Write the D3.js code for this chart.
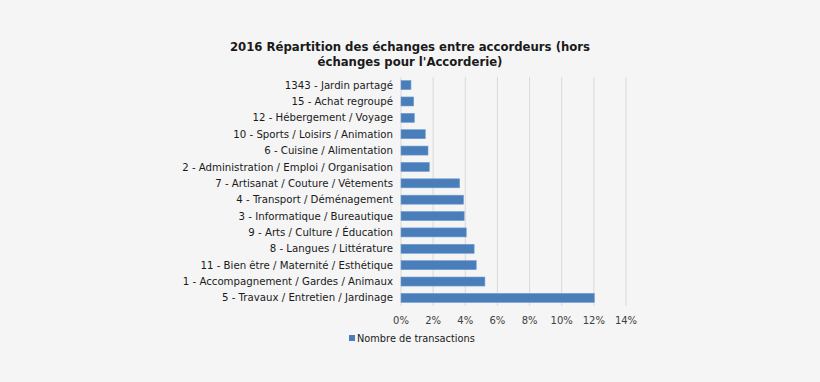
<!DOCTYPE html>
<html>
<head>
<meta charset="utf-8">
<script src="https://cdn.jsdelivr.net/npm/d3@7"></script>
<style>
  body { margin: 0; background: #f5f5f5; }
  svg { display: block; font-family: "DejaVu Sans", Verdana, sans-serif; }
</style>
</head>
<body>
<svg id="chart" width="820" height="382"></svg>
<script>
const categories = [
  "1343 - Jardin partagé",
  "15 - Achat regroupé",
  "12 - Hébergement / Voyage",
  "10 - Sports / Loisirs / Animation",
  "6 - Cuisine / Alimentation",
  "2 - Administration / Emploi / Organisation",
  "7 - Artisanat / Couture / Vêtements",
  "4 - Transport / Déménagement",
  "3 - Informatique / Bureautique",
  "9 - Arts / Culture / Éducation",
  "8 - Langues / Littérature",
  "11 - Bien être / Maternité / Esthétique",
  "1 - Accompagnement / Gardes / Animaux",
  "5 - Travaux / Entretien / Jardinage"
];
const transactions = [0.62, 0.79, 0.83, 1.51, 1.68, 1.76, 3.65, 3.89, 3.93, 4.06, 4.55, 4.68, 5.22, 12.03];
const xTicks = [0, 2, 4, 6, 8, 10, 12, 14];
const titleLines = ["2016 Répartition des échanges entre accordeurs (hors", "échanges pour l'Accorderie)"];
const legendLabel = "Nombre de transactions";

const svg = d3.select("#chart");
const margin = {left: 401, right: 194, top: 77, bottom: 76};
const W = 820, H = 382;

const x = d3.scaleLinear().domain([0, 14]).range([margin.left, W - margin.right]);
const y = d3.scaleBand().domain(categories).range([margin.top, H - margin.bottom]).paddingInner(0.45).paddingOuter(0.22);

// title
svg.append("g").selectAll("text").data(titleLines).enter().append("text")
  .attr("x", 410).attr("y", (d, i) => 51 + i * 14.5)
  .attr("text-anchor", "middle")
  .attr("font-size", 11.7).attr("font-weight", "bold").attr("fill", "#1a1a1a")
  .text(d => d);

// grid
svg.append("g").selectAll("line").data(xTicks).enter().append("line")
  .attr("x1", d => x(d)).attr("x2", d => x(d))
  .attr("y1", margin.top).attr("y2", H - margin.bottom)
  .attr("stroke", "#d9d9d9").attr("stroke-width", 1);

// bars
svg.append("g").selectAll("rect").data(transactions).enter().append("rect")
  .attr("x", x(0))
  .attr("y", (d, i) => y(categories[i]))
  .attr("width", d => x(d) - x(0))
  .attr("height", y.bandwidth())
  .attr("fill", "#4a7ebb")
  .attr("stroke", "#6f9bd0").attr("stroke-width", 0.6);

// category labels
svg.append("g").selectAll("text").data(categories).enter().append("text")
  .attr("x", 393)
  .attr("y", d => y(d) + y.bandwidth() / 2)
  .attr("dy", "0.35em")
  .attr("text-anchor", "end")
  .attr("font-size", 10.2).attr("fill", "#1a1a1a")
  .text(d => d);

// x tick labels
svg.append("g").selectAll("text").data(xTicks).enter().append("text")
  .attr("x", d => x(d))
  .attr("y", 324)
  .attr("text-anchor", "middle")
  .attr("font-size", 10).attr("fill", "#404040")
  .text(d => d + "%");

// legend
svg.append("rect").attr("x", 349).attr("y", 335).attr("width", 6).attr("height", 6).attr("fill", "#4a7ebb");
svg.append("text").attr("x", 357).attr("y", 341.5)
  .attr("font-size", 9.8).attr("fill", "#1a1a1a")
  .text(legendLabel);
</script>
</body>
</html>
